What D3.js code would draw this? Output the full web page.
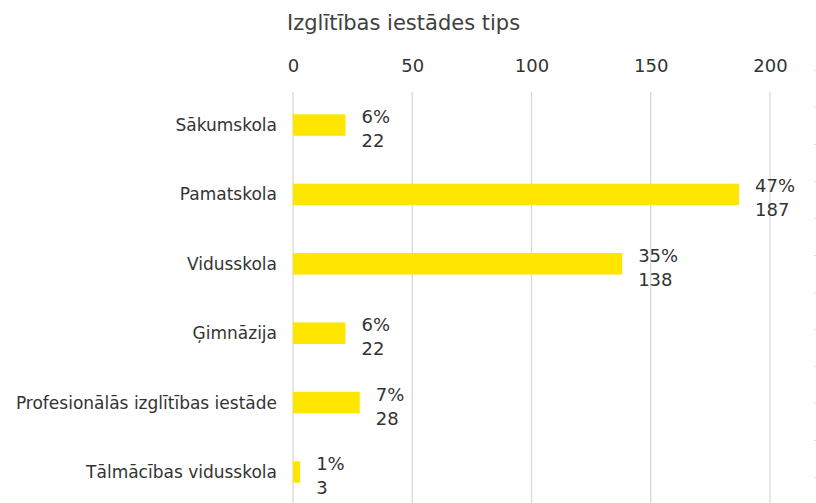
<!DOCTYPE html>
<html lang="lv">
<head>
<meta charset="UTF-8">
<title>Izglītības iestādes tips</title>
<script src="https://cdnjs.cloudflare.com/ajax/libs/d3/7.8.5/d3.min.js"></script>
<style>
    body { margin: 0; background: #fff; font-family: "DejaVu Sans", Verdana, sans-serif; }
    svg { display: block; }
</style>
</head>
<body>
<div id="chart"></div>
<script>
    const categories = ["Sākumskola", "Pamatskola", "Vidusskola", "Ģimnāzija", "Profesionālās izglītības iestāde", "Tālmācības vidusskola"];
    const counts = [22, 187, 138, 22, 28, 3];
    const percents = [6, 47, 35, 6, 7, 1];
    const xTicks = [0, 50, 100, 150, 200];
    const title = "Izglītības iestādes tips";

    const width = 816, height = 503;
    const x0 = 293, x200 = 770;

    const svg = d3.select("#chart").append("svg")
        .attr("width", width)
        .attr("height", height);

    const x = d3.scaleLinear().domain([0, 200]).range([x0, x200]);
    const y = d3.scaleBand().domain(categories).range([90, 507]).paddingInner(0.69).paddingOuter(0.35);

    // title
    svg.append("text")
        .attr("x", 287).attr("y", 30)
        .attr("fill", "#404040")
        .attr("font-size", 21)
        .text(title);

    // gridlines
    svg.append("g").selectAll("line").data(xTicks).join("line")
        .attr("x1", d => x(d)).attr("x2", d => x(d))
        .attr("y1", 92).attr("y2", height)
        .attr("stroke", "#d9d9d9").attr("stroke-width", 1.3);

    // top axis labels
    const axis = svg.append("g")
        .attr("transform", "translate(0,78)")
        .call(d3.axisTop(x).tickValues(xTicks).tickSize(0).tickPadding(6));
    axis.select(".domain").remove();
    axis.selectAll("text")
        .attr("font-family", "DejaVu Sans, Verdana, sans-serif")
        .attr("font-size", 18)
        .attr("fill", "#333");

    // faint dotted edge on the right
    svg.append("line")
        .attr("x1", 815).attr("x2", 815).attr("y1", 70).attr("y2", height)
        .attr("stroke", "#bbb").attr("stroke-dasharray", "1,36");

    const rows = categories.map((c, i) => ({ c, n: counts[i], p: percents[i] }));

    // bars
    svg.append("g").selectAll("rect").data(rows).join("rect")
        .attr("x", x(0))
        .attr("y", d => y(d.c))
        .attr("width", d => x(d.n) - x(0))
        .attr("height", y.bandwidth())
        .attr("fill", "#ffe600");

    // category labels
    svg.append("g").selectAll("text").data(rows).join("text")
        .attr("x", 277)
        .attr("y", d => y(d.c) + y.bandwidth() / 2)
        .attr("dy", "0.35em")
        .attr("text-anchor", "end")
        .attr("font-size", 17)
        .attr("fill", "#333")
        .text(d => d.c);

    // value labels
    const lab = svg.append("g").selectAll("g").data(rows).join("g")
        .attr("transform", d => `translate(${x(d.n) + 16},${y(d.c) + y.bandwidth() / 2})`);
    lab.append("text")
        .attr("y", -2)
        .attr("font-size", 18)
        .attr("fill", "#333")
        .text(d => d.p + "%");
    lab.append("text")
        .attr("y", 22)
        .attr("font-size", 18)
        .attr("fill", "#333")
        .text(d => d.n);
</script>
</body>
</html>
